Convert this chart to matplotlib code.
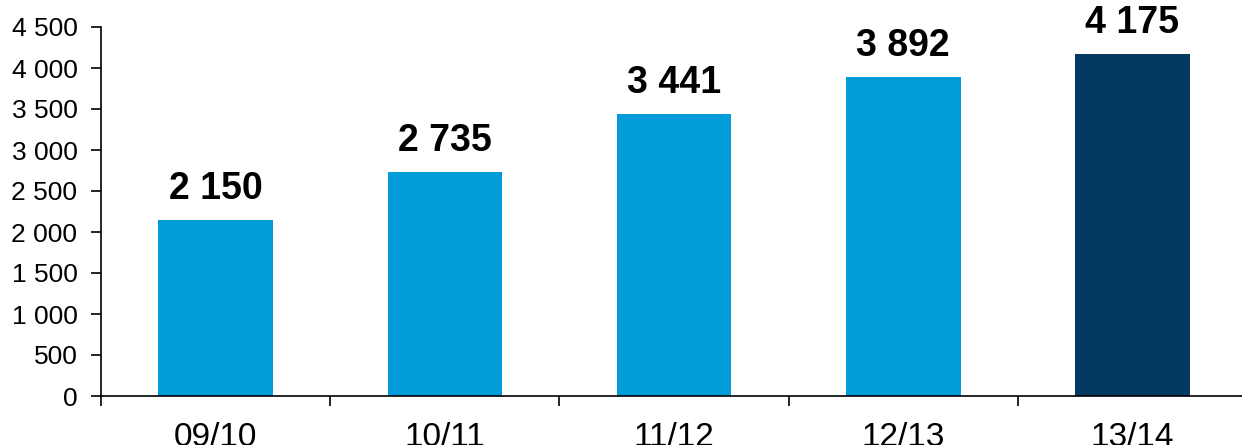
import numpy as np
import matplotlib.pyplot as plt
from matplotlib.ticker import FuncFormatter, FixedLocator

plt.rcParams['font.family'] = ['Liberation Sans', 'DejaVu Sans']

seasons = ['09/10', '10/11', '11/12', '12/13', '13/14']
values = [2150, 2735, 3441, 3892, 4175]
colors = ['#029cd8', '#029cd8', '#029cd8', '#029cd8', '#033a62']

def spaced(v, pos=None):
    return '{:,}'.format(int(v)).replace(',', ' ')

fig = plt.figure(figsize=(12.42, 4.45), dpi=100)
ax = fig.add_axes([101/1242, 49/445, 1146/1242, 369/445])

x = np.arange(len(seasons))
ax.bar(x, values, width=0.5, color=colors)

for xi, v in zip(x, values):
    ax.annotate(spaced(v), (xi, v), xytext=(0, 9), textcoords='offset points',
                ha='center', va='bottom', fontsize=27, fontweight='bold')

ax.set_xlim(-0.5, len(seasons) - 0.5)
ax.set_ylim(0, 4500)
ax.set_yticks(np.arange(0, 4501, 500))
ax.yaxis.set_major_formatter(FuncFormatter(spaced))

# ticks between categories, labels centred under bars
ax.xaxis.set_major_locator(FixedLocator(np.arange(-0.5, len(seasons), 1.0)))
ax.xaxis.set_major_formatter(FuncFormatter(lambda v, p: ''))
ax.set_xticks(x, minor=True)
ax.set_xticklabels(seasons, minor=True)
ax.tick_params(axis='x', which='major', direction='out', length=7, width=1.2)
ax.tick_params(axis='x', which='minor', length=0, pad=19, labelsize=24)
ax.tick_params(axis='y', direction='out', length=7, width=1.2, pad=10, labelsize=19)

for s in ['top', 'right']:
    ax.spines[s].set_visible(False)
for s in ['left', 'bottom']:
    ax.spines[s].set_linewidth(1.2)

fig.savefig('out.png', dpi=100)
